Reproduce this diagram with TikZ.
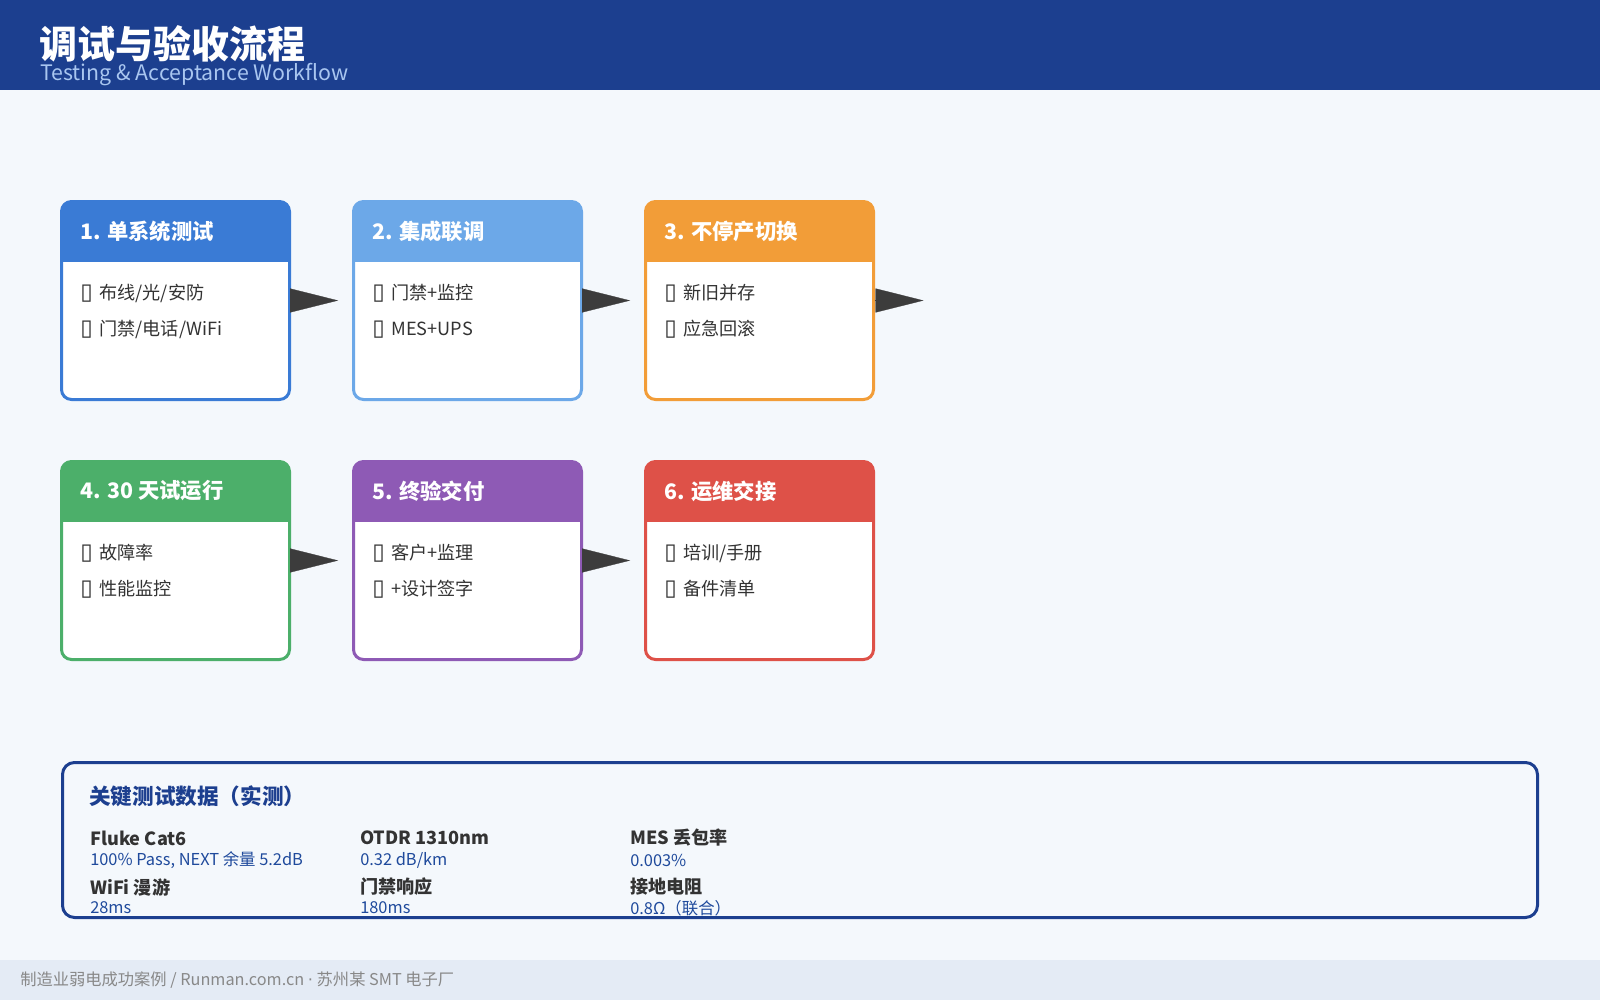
\documentclass[tikz,border=0pt]{standalone}
\usepackage{fontspec}
\setmainfont{Noto Sans CJK SC}
\newfontfamily\symfont{DejaVu Sans}
\usetikzlibrary{arrows.meta,calc}
\definecolor{topbar}{HTML}{1C3F8F}
\definecolor{pagebg}{HTML}{F4F8FC}
\definecolor{footbg}{HTML}{E4EBF5}
\definecolor{subblue}{HTML}{A9C6F0}
\definecolor{cone}{HTML}{3A7BD5}
\definecolor{ctwo}{HTML}{6CA8E8}
\definecolor{cthree}{HTML}{F29D38}
\definecolor{cfour}{HTML}{4CAF6A}
\definecolor{cfive}{HTML}{8E5AB5}
\definecolor{csix}{HTML}{DE5148}
\definecolor{itemgray}{HTML}{333333}
\definecolor{arrowgray}{HTML}{3C3C3C}
\definecolor{valblue}{HTML}{1F4A9C}
\definecolor{footgray}{HTML}{888888}
\begin{document}
\begin{tikzpicture}[x=0.75pt,y=-0.75pt,
  stage/.style={draw=#1,fill=white,line width=2.25pt,rounded corners=7.5pt,
    minimum width=171pt,minimum height=148.5pt,outer sep=0pt,inner sep=0pt},
  headtxt/.style={anchor=west,inner sep=0pt,text=white,font=\bfseries\fontsize{16}{19}\selectfont},
  itemtxt/.style={anchor=west,inner sep=0pt,text=itemgray,font=\fontsize{13.6}{16}\selectfont},
  flow/.style={-{Triangle[length=36pt,width=18pt]},line width=0.2pt,draw=arrowgray,
    fill=arrowgray,shorten <=1.1pt,shorten >=11.6pt},
  keytxt/.style={anchor=west,inner sep=0pt,text=itemgray,font=\bfseries\fontsize{13.6}{16}\selectfont},
  valtxt/.style={anchor=west,inner sep=0pt,text=valblue,font=\fontsize{12.3}{14}\selectfont}]
\useasboundingbox (0,0) rectangle (1600,1000);
% 背景与标题栏
\fill[pagebg] (0,0) rectangle (1600,1000);
\fill[topbar] (0,0) rectangle (1600,90);
\node[anchor=west,inner sep=0pt,text=white,font=\bfseries\fontsize{28.5}{32}\selectfont] (title) at (39,44) {调试与验收流程};
\node[anchor=west,inner sep=0pt,text=subblue,font=\fontsize{16}{19}\selectfont] (subtitle) at (40,75) {Testing \& Acceptance Workflow};
% 第一行
\node[stage=cone] (b1) at (175.5,300.5) {};
\node[stage=ctwo] (b2) at (467.5,300.5) {};
\node[stage=cthree] (b3) at (759.5,300.5) {};
% 第二行
\node[stage=cfour] (b4) at (175.5,560.5) {};
\node[stage=cfive] (b5) at (467.5,560.5) {};
\node[stage=csix] (b6) at (759.5,560.5) {};
% 标题色块
\begin{scope}
\clip[rounded corners=7.5pt] (b1.north west) rectangle (b1.south east);
\fill[cone] (b1.north west) rectangle ($(b1.north east)+(0,60)$);
\end{scope}
\begin{scope}
\clip[rounded corners=7.5pt] (b2.north west) rectangle (b2.south east);
\fill[ctwo] (b2.north west) rectangle ($(b2.north east)+(0,60)$);
\end{scope}
\begin{scope}
\clip[rounded corners=7.5pt] (b3.north west) rectangle (b3.south east);
\fill[cthree] (b3.north west) rectangle ($(b3.north east)+(0,60)$);
\end{scope}
\begin{scope}
\clip[rounded corners=7.5pt] (b4.north west) rectangle (b4.south east);
\fill[cfour] (b4.north west) rectangle ($(b4.north east)+(0,60)$);
\end{scope}
\begin{scope}
\clip[rounded corners=7.5pt] (b5.north west) rectangle (b5.south east);
\fill[cfive] (b5.north west) rectangle ($(b5.north east)+(0,60)$);
\end{scope}
\begin{scope}
\clip[rounded corners=7.5pt] (b6.north west) rectangle (b6.south east);
\fill[csix] (b6.north west) rectangle ($(b6.north east)+(0,60)$);
\end{scope}
% 文字
\node[headtxt] (t1) at ($(b1.north west)+(18.5,29.5)$) {1. 单系统测试};
\node[itemtxt] (i1a) at ($(b1.north west)+(18.5,92)$) {{\symfont\fontsize{17}{17}\selectfont ▯}\hspace{2pt} 布线/光/安防};
\node[itemtxt] (i1b) at ($(b1.north west)+(18.5,128)$) {{\symfont\fontsize{17}{17}\selectfont ▯}\hspace{2pt} 门禁/电话/WiFi};
\node[headtxt] (t2) at ($(b2.north west)+(18.5,29.5)$) {2. 集成联调};
\node[itemtxt] (i2a) at ($(b2.north west)+(18.5,92)$) {{\symfont\fontsize{17}{17}\selectfont ▯}\hspace{2pt} 门禁+监控};
\node[itemtxt] (i2b) at ($(b2.north west)+(18.5,128)$) {{\symfont\fontsize{17}{17}\selectfont ▯}\hspace{2pt} MES+UPS};
\node[headtxt] (t3) at ($(b3.north west)+(18.5,29.5)$) {3. 不停产切换};
\node[itemtxt] (i3a) at ($(b3.north west)+(18.5,92)$) {{\symfont\fontsize{17}{17}\selectfont ▯}\hspace{2pt} 新旧并存};
\node[itemtxt] (i3b) at ($(b3.north west)+(18.5,128)$) {{\symfont\fontsize{17}{17}\selectfont ▯}\hspace{2pt} 应急回滚};
\node[headtxt] (t4) at ($(b4.north west)+(18.5,29.5)$) {4. 30 天试运行};
\node[itemtxt] (i4a) at ($(b4.north west)+(18.5,92)$) {{\symfont\fontsize{17}{17}\selectfont ▯}\hspace{2pt} 故障率};
\node[itemtxt] (i4b) at ($(b4.north west)+(18.5,128)$) {{\symfont\fontsize{17}{17}\selectfont ▯}\hspace{2pt} 性能监控};
\node[headtxt] (t5) at ($(b5.north west)+(18.5,29.5)$) {5. 终验交付};
\node[itemtxt] (i5a) at ($(b5.north west)+(18.5,92)$) {{\symfont\fontsize{17}{17}\selectfont ▯}\hspace{2pt} 客户+监理};
\node[itemtxt] (i5b) at ($(b5.north west)+(18.5,128)$) {{\symfont\fontsize{17}{17}\selectfont ▯}\hspace{2pt} +设计签字};
\node[headtxt] (t6) at ($(b6.north west)+(18.5,29.5)$) {6. 运维交接};
\node[itemtxt] (i6a) at ($(b6.north west)+(18.5,92)$) {{\symfont\fontsize{17}{17}\selectfont ▯}\hspace{2pt} 培训/手册};
\node[itemtxt] (i6b) at ($(b6.north west)+(18.5,128)$) {{\symfont\fontsize{17}{17}\selectfont ▯}\hspace{2pt} 备件清单};
% 箭头
\coordinate (out3) at ($(b3.east)+(50,0)$);
\draw[flow] (b1.east) -- (b2.west);
\draw[flow] (b2.east) -- (b3.west);
\draw[flow,shorten >=0pt] (b3.east) -- (out3);
\draw[flow] (b4.east) -- (b5.west);
\draw[flow] (b5.east) -- (b6.west);
% 测试数据
\draw[topbar,line width=2.25pt,rounded corners=9pt] (62.5,762.5) rectangle (1537.5,917.5);
\node[anchor=west,inner sep=0pt,text=topbar,font=\bfseries\fontsize{16.2}{19}\selectfont] (dtitle) at (89,796) {关键测试数据（实测）};
\node[keytxt] (k1) at (90,838) {Fluke Cat6};
\node[valtxt] (v1) at (90,860) {100\% Pass, NEXT 余量 5.2dB};
\node[keytxt] (k2) at (360,838) {OTDR 1310nm};
\node[valtxt] (v2) at (360,860) {0.32 dB/km};
\node[keytxt] (k3) at (630,838) {MES 丢包率};
\node[valtxt] (v3) at (630,860) {0.003\%};
\node[keytxt] (k4) at (90,887) {WiFi 漫游};
\node[valtxt] (v4) at (90,908) {28ms};
\node[keytxt] (k5) at (360,887) {门禁响应};
\node[valtxt] (v5) at (360,908) {180ms};
\node[keytxt] (k6) at (630,887) {接地电阻};
\node[valtxt] (v6) at (630,908) {0.8Ω（联合）};
% 页脚
\fill[footbg] (0,960) rectangle (1600,1000);
\node[anchor=west,inner sep=0pt,text=footgray,font=\fontsize{12.2}{14}\selectfont] (foot) at (20,980) {制造业弱电成功案例 / Runman.com.cn {\symfont ·} 苏州某 SMT 电子厂};
\end{tikzpicture}
\end{document}
